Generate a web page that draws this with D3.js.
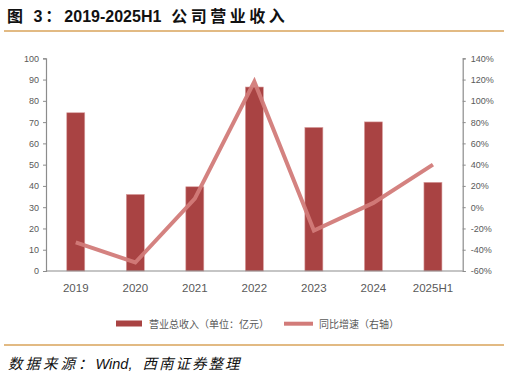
<!DOCTYPE html>
<html><head><meta charset="utf-8">
<script src="https://cdn.jsdelivr.net/npm/d3@7"></script>
<style>
html,body{margin:0;padding:0;background:#fff;}
svg{display:block;}
</style></head>
<body>
<svg id="c" width="508" height="378"></svg>
<script>
const categories = ["2019","2020","2021","2022","2023","2024","2025H1"];
const revenue = [74.4, 36.0, 39.6, 86.5, 67.5, 70.1, 41.7];
const growth = [-33, -52, 8, 118, -22, 4, 40];
const leftTicks = [0,10,20,30,40,50,60,70,80,90,100];
const rightTicks = [-60,-40,-20,0,20,40,60,80,100,120,140];

const svg = d3.select("#c");
const cjk = "'Liberation Sans','Noto Sans CJK SC',sans-serif";
const L = 46, R = 462.7, T = 58.3, B = 271;

// title
const title = svg.append("text").attr("x", 7).attr("y", 22)
  .attr("font-family", cjk).attr("font-weight", "bold").attr("font-size", 16)
  .attr("fill", "#111");
title.append("tspan").attr("letter-spacing", 3).text("图 3：");
title.append("tspan").text("2019-2025H1");
title.append("tspan").attr("dx", 10).attr("letter-spacing", 3.5).text("公司营业收入");
svg.append("line").attr("x1", 4).attr("x2", 504).attr("y1", 31).attr("y2", 31)
  .attr("stroke", "#D9A35A").attr("stroke-width", 1.5);
svg.append("line").attr("x1", 4).attr("x2", 504).attr("y1", 345).attr("y2", 345)
  .attr("stroke", "#D9A35A").attr("stroke-width", 1.5);
const src = svg.append("text").attr("x", 8).attr("y", 369)
  .attr("font-family", cjk).attr("font-style", "italic").attr("font-size", 14.5)
  .attr("fill", "#111");
src.append("tspan").attr("letter-spacing", 3).text("数据来源：");
src.append("tspan").text("Wind,");
src.append("tspan").attr("dx", 10).attr("letter-spacing", 2).text("西南证券整理");

const x = d3.scaleBand().domain(categories).range([L, R]).paddingInner(0).paddingOuter(0);
const y = d3.scaleLinear().domain([0, 100]).range([B, T]);
const y2 = d3.scaleLinear().domain([-60, 140]).range([B, T]);

const barW = 18;
svg.append("g").selectAll("rect").data(categories).join("rect")
  .attr("x", (d) => x(d) + x.bandwidth()/2 - barW/2)
  .attr("width", barW)
  .attr("y", (d, i) => y(revenue[i]))
  .attr("height", (d, i) => B - y(revenue[i]))
  .attr("fill", "#A94343")
  .attr("stroke", "#D9A0A0").attr("stroke-width", 0.6);

const axisColor = "#8C8C8C";
const gl = svg.append("g").attr("transform", `translate(${L},0)`)
  .call(d3.axisLeft(y).tickValues(leftTicks).tickSize(3).tickPadding(4));
const gr = svg.append("g").attr("transform", `translate(${R},0)`)
  .call(d3.axisRight(y2).tickValues(rightTicks).tickSize(3).tickPadding(5).tickFormat(d => d + "%"));
const gx = svg.append("g").attr("transform", `translate(0,${B})`)
  .call(d3.axisBottom(x).tickSize(0).tickPadding(13));
[gl, gr, gx].forEach(g => {
  g.selectAll("path.domain").attr("stroke", axisColor).attr("stroke-width", 1.2);
  g.selectAll(".tick line").attr("stroke", axisColor);
  g.selectAll("text").attr("fill", "#595959").attr("font-family", "'Liberation Sans', Arial, sans-serif");
});
gl.selectAll("text").attr("font-size", 9);
gr.selectAll("text").attr("font-size", 9);
gx.selectAll("text").attr("font-size", 11.5);
gx.select("path.domain").attr("d", `M${L},0H${R}`);

const line = d3.line()
  .x((d, i) => x(categories[i]) + x.bandwidth()/2)
  .y((d) => y2(d));
svg.append("path").datum(growth).attr("d", line)
  .attr("fill", "none").attr("stroke", "#D27B79").attr("stroke-width", 4)
  .attr("stroke-linejoin", "miter").attr("stroke-opacity", 0.95);

// legend
const lg = svg.append("g").attr("font-family", cjk).attr("font-size", 10).attr("fill", "#595959");
lg.append("rect").attr("x", 116).attr("y", 320.5).attr("width", 26).attr("height", 6).attr("fill", "#A94343");
lg.append("text").attr("x", 149).attr("y", 327.5).text("营业总收入（单位：亿元）");
lg.append("line").attr("x1", 284).attr("x2", 313).attr("y1", 323.7).attr("y2", 323.7)
  .attr("stroke", "#D27B79").attr("stroke-width", 4);
lg.append("text").attr("x", 319).attr("y", 327.5).text("同比增速（右轴）");
</script>
</body></html>
